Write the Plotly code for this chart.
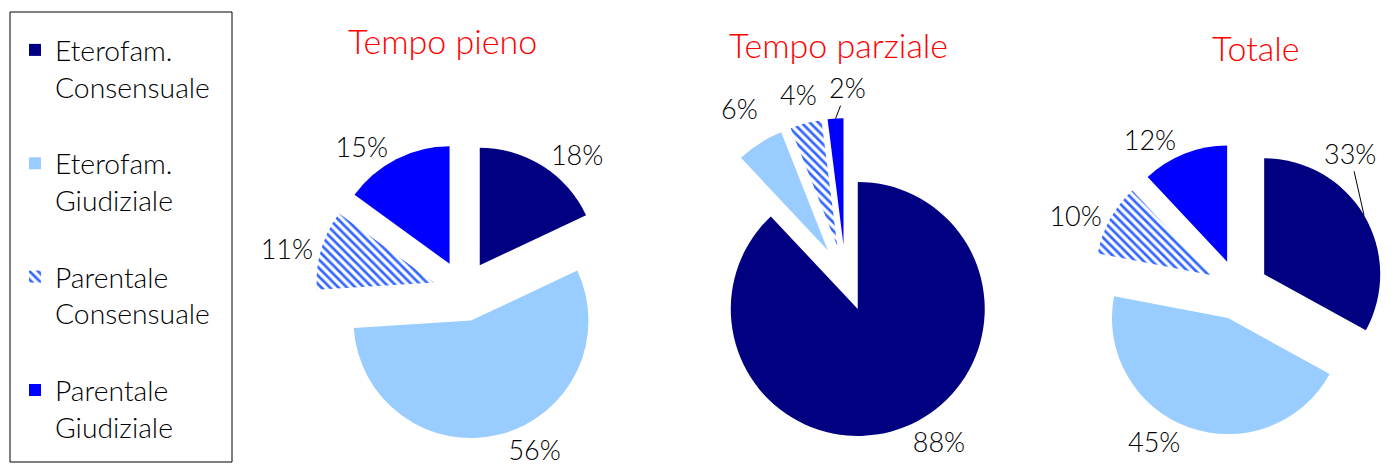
import math
import plotly.graph_objects as go

categories = ["Eterofam.<br>Consensuale", "Eterofam.<br>Giudiziale",
              "Parentale<br>Consensuale", "Parentale<br>Giudiziale"]
titles = ["Tempo pieno", "Tempo parziale", "Totale"]
tempo_pieno = [18, 56, 11, 15]
tempo_parziale = [88, 6, 4, 2]
totale = [33, 45, 10, 12]

colors = ["#000080", "#99CCFF", "#3366FF", "#0000FF"]
shapes = ["", "", "\\", ""]

# the page body has an 8px margin: lay out in window pixels, convert to figure coords
OFF = 8
W, H = 1400 - OFF, 474 - OFF
FONT = "Lato"
PULL = 0.26
LABEL_FONT = dict(family=FONT, size=27, color="black", weight=300)


def fx(px):
    return (px - OFF) / W


def fy(py):
    return 1 - (py - OFF) / H


# pie boxes in window pixels: (cx, cy, half)
boxes = [(463.4, 291, 148), (845.6, 278.3, 160), (1238.2, 289.7, 146.2)]
title_pos = [(442, 40), (838, 44), (1255, 47)]

# labels drawn as annotations (pie index, slice index) -> (dx, dy, leader line)
label_offsets = {
    (1, 1): (-20, -35, False),
    (1, 2): (-7, -29, False),
    (1, 3): (12, -31, True),
    (2, 0): (-14, -62, True),
}

# legend labels with a spacing line between items
leg_labels = [c + "<br> " if i < len(categories) - 1 else c for i, c in enumerate(categories)]

series = [tempo_pieno, tempo_parziale, totale]
fig = go.Figure()
for k, (vals, (cx, cy, h)) in enumerate(zip(series, boxes)):
    tpos = ["none" if (k, i) in label_offsets else "outside" for i in range(len(vals))]
    fig.add_trace(go.Pie(
        labels=leg_labels,
        values=vals,
        sort=False,
        direction="clockwise",
        rotation=0,
        pull=[PULL] * len(vals),
        marker=dict(colors=colors,
                    line=dict(width=0),
                    pattern=dict(shape=shapes, fgcolor="#3366FF", bgcolor="white",
                                 size=6, solidity=0.45, fillmode="replace")),
        texttemplate="%{value}%",
        textposition=tpos,
        textfont=LABEL_FONT,
        hoverinfo="label+value",
        domain=dict(x=[fx(cx - h), fx(cx + h)], y=[fy(cy + h), fy(cy - h)]),
    ))

    total = sum(vals)
    cum = 0
    for i, v in enumerate(vals):
        mid = 2 * math.pi * (cum + v / 2) / total
        cum += v
        if (k, i) not in label_offsets:
            continue
        dx, dy, leader = label_offsets[(k, i)]
        px = cx + h * math.sin(mid)
        py = cy - h * math.cos(mid)
        if leader:
            fig.add_annotation(text=f"{v}%", x=fx(px), y=fy(py), xref="paper", yref="paper",
                               showarrow=True, arrowhead=0, arrowwidth=1, arrowcolor="black",
                               ax=dx, ay=dy, standoff=0, font=LABEL_FONT)
        else:
            fig.add_annotation(text=f"{v}%", x=fx(px), y=fy(py), xref="paper", yref="paper",
                               showarrow=False, xanchor="center", yanchor="middle",
                               xshift=dx, yshift=-dy, font=LABEL_FONT)

for t, (x, y) in zip(titles, title_pos):
    fig.add_annotation(text=t, x=fx(x), y=fy(y), xref="paper", yref="paper",
                       showarrow=False, xanchor="center", yanchor="middle",
                       font=dict(family=FONT, size=34, color="#FF0000", weight=300))

# legend frame
fig.add_shape(type="rect", xref="paper", yref="paper",
              x0=fx(10), x1=fx(232), y0=fy(462), y1=fy(12),
              line=dict(color="black", width=1), fillcolor="rgba(0,0,0,0)", layer="above")

fig.update_layout(
    width=W, height=H,
    margin=dict(l=0, r=0, t=0, b=0, autoexpand=False),
    paper_bgcolor="white", plot_bgcolor="white",
    showlegend=True,
    legend=dict(x=fx(15), y=fy(25), xanchor="left", yanchor="top",
                borderwidth=0, bgcolor="rgba(0,0,0,0)",
                font=dict(family=FONT, size=28.3, color="black", weight=300),
                valign="top", traceorder="normal"),
)

fig.write_html("out.html")
